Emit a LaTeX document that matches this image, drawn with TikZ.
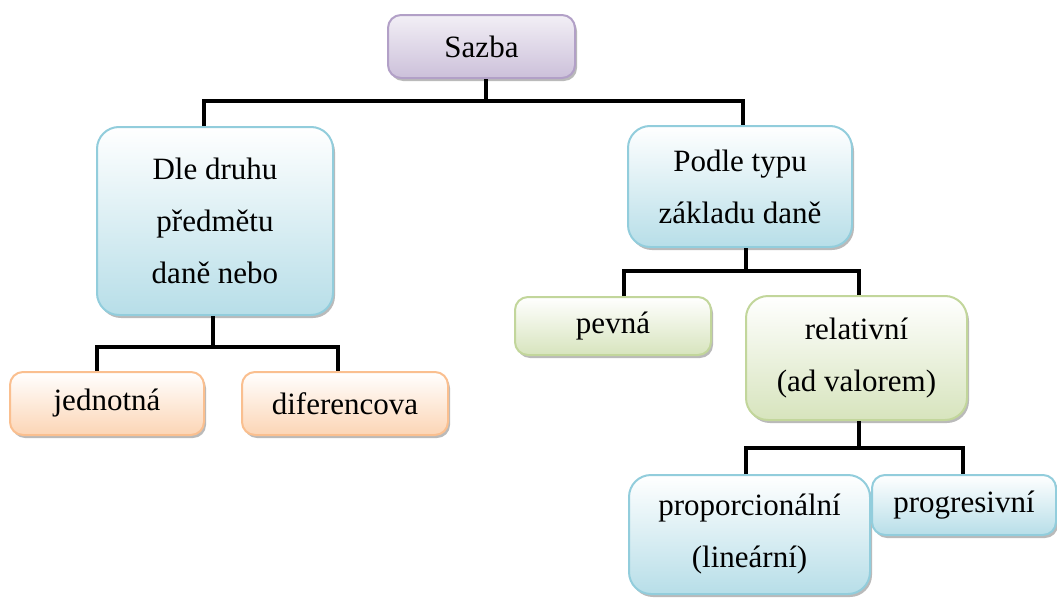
\documentclass[tikz,border=0pt]{standalone}
\usepackage{fontspec}
\setmainfont{Liberation Serif}
\usetikzlibrary{shadows}
\definecolor{purpleline}{RGB}{178,160,199}
\definecolor{purplefill}{RGB}{204,192,218}
\definecolor{blueline}{RGB}{146,205,220}
\definecolor{bluefill}{RGB}{183,222,232}
\definecolor{orangeline}{RGB}{250,191,143}
\definecolor{orangefill}{RGB}{252,213,181}
\definecolor{greenline}{RGB}{194,214,155}
\definecolor{greenfill}{RGB}{215,228,189}

\begin{document}
\begin{tikzpicture}[
    x=1pt, y=-1pt,
    box/.style={draw=#1line, line width=2pt, top color=white, bottom color=#1fill,
      rounded corners=13pt, inner sep=0pt, align=center,
      font=\fontsize{31}{52}\selectfont,
      drop shadow={shadow xshift=2pt, shadow yshift=-3pt, fill=black!45, opacity=0.6}},
    bigbox/.style={box=#1, rounded corners=22pt},
    link/.style={line width=3.5pt, black},
  ]
  \useasboundingbox (0,0) rectangle (1057,597);

  % --- Boxes ---
  \node[box=purple, top color=purplefill!25, minimum width=187pt, minimum height=63pt]
    (sazba) at (481.5,46.5) {Sazba};
  \node[bigbox=blue, minimum width=236pt, minimum height=188pt]
    (dle) at (215,221) {Dle druhu\\předmětu\\daně nebo};
  \node[bigbox=blue, minimum width=224pt, minimum height=121pt]
    (podle) at (740,186.5) {Podle typu\\základu daně};
  \node[box=orange, minimum width=194pt, minimum height=63pt]
    (jedn) at (107,403.5) {jednotná};
  \node[box=orange, minimum width=206pt, minimum height=63pt]
    (dif) at (345,403.5) {diferencova};
  \node[box=green, minimum width=196pt, minimum height=58pt]
    (pevna) at (613,326) {pevná};
  \node[bigbox=green, minimum width=221pt, minimum height=124pt]
    (rel) at (856.5,358) {relativní\\(ad valorem)};
  \node[bigbox=blue, minimum width=241pt, minimum height=119pt]
    (prop) at (749.5,534.5) {proporcionální\\(lineární)};
  \node[box=blue, minimum width=184pt, minimum height=60pt]
    (prog) at (964,505) {progresivní};

  % --- Brackets ---
  \draw[link] ([xshift=4.5pt]sazba.south) -- ++(0,22) coordinate (busA);
  \draw[link] ([xshift=-11pt]dle.north) |- (busA) -| ([xshift=3pt]podle.north);

  \draw[link] ([xshift=-2pt]dle.south) -- ++(0,31) coordinate (busB);
  \draw[link] ([xshift=-10pt]jedn.north) |- (busB) -| ([xshift=-7pt]dif.north);

  \draw[link] ([xshift=6pt]podle.south) -- ++(0,23) coordinate (busC);
  \draw[link] ([xshift=11pt]pevna.north) |- (busC) -| ([xshift=2.5pt]rel.north);

  \draw[link] ([xshift=2.5pt]rel.south) -- ++(0,27) coordinate (busD);
  \draw[link] ([xshift=-3.5pt]prop.north) |- (busD) -| ([xshift=-1pt]prog.north);
\end{tikzpicture}
\end{document}
